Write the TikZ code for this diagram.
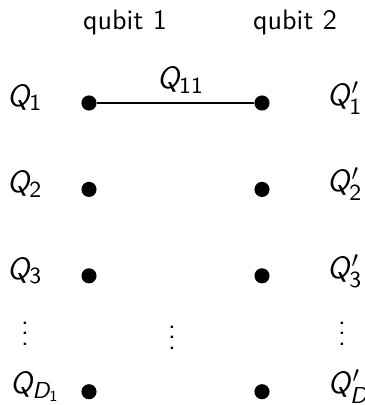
\documentclass[tikz,border=0pt]{standalone}
\usepackage{amsmath}
\usepackage{tikz}
\SetSymbolFont{operators}{normal}{OT1}{cmss}{m}{n}
\SetSymbolFont{letters}{normal}{OT1}{cmss}{m}{it}

\begin{document}
\begin{tikzpicture}[x=0.39pt, y=-0.39pt, node distance=33.7pt,
  every node/.style={font=\sffamily\fontsize{10.95}{13}\selectfont},
  qlab/.style={font=\sffamily\fontsize{12.6}{15}\selectfont},
  qdot/.style={circle, fill=black, inner sep=0pt, minimum size=5.9pt}]
\useasboundingbox (0,0) rectangle (364,405);

\node (qubit one) at (125,22) {qubit 1};
\node (qubit two) at (295,22) {qubit 2};

% dots of qubit 1
\node (left 1) at (89,103) [qdot] {};
\node (left 2) [qdot, below of=left 1] {};
\node (left 3) [qdot, below of=left 2] {};
\node (left D) [qdot, node distance=45.2pt, below of=left 3] {};

% dots of qubit 2
\node (right 1) at (262,103) [qdot] {};
\node (right 2) [qdot, below of=right 1] {};
\node (right 3) [qdot, below of=right 2] {};
\node (right D) [qdot, node distance=45.2pt, below of=right 3] {};

% labels
\node (Q1) [qlab, node distance=25pt, left of=left 1, yshift=2pt] {$Q_1$};
\node (Q2) [qlab, node distance=25pt, left of=left 2, yshift=2pt] {$Q_2$};
\node (Q3) [qlab, node distance=25pt, left of=left 3, yshift=2pt] {$Q_3$};
\node (QD) [qlab, node distance=21pt, left of=left D, yshift=2pt] {$Q_{D_1}$};
\node (Q1p) [qlab, node distance=32.3pt, right of=right 1, yshift=2pt] {$Q'_1$};
\node (Q2p) [qlab, node distance=32.3pt, right of=right 2, yshift=2pt] {$Q'_2$};
\node (Q3p) [qlab, node distance=32.3pt, right of=right 3, yshift=2pt] {$Q'_3$};
\node (QDp) [qlab, node distance=34pt, right of=right D, yshift=2pt] {$Q'_D$};

\node (dots left) at (25,326) {$\vdots$};
\node (dots mid) at (172,330) {$\vdots$};
\node (dots right) at (342,326) {$\vdots$};

\draw [thick] (left 1) -- (right 1) node[qlab, above, pos=0.5, xshift=2pt] {$Q_{11}$};

\end{tikzpicture}
\end{document}
